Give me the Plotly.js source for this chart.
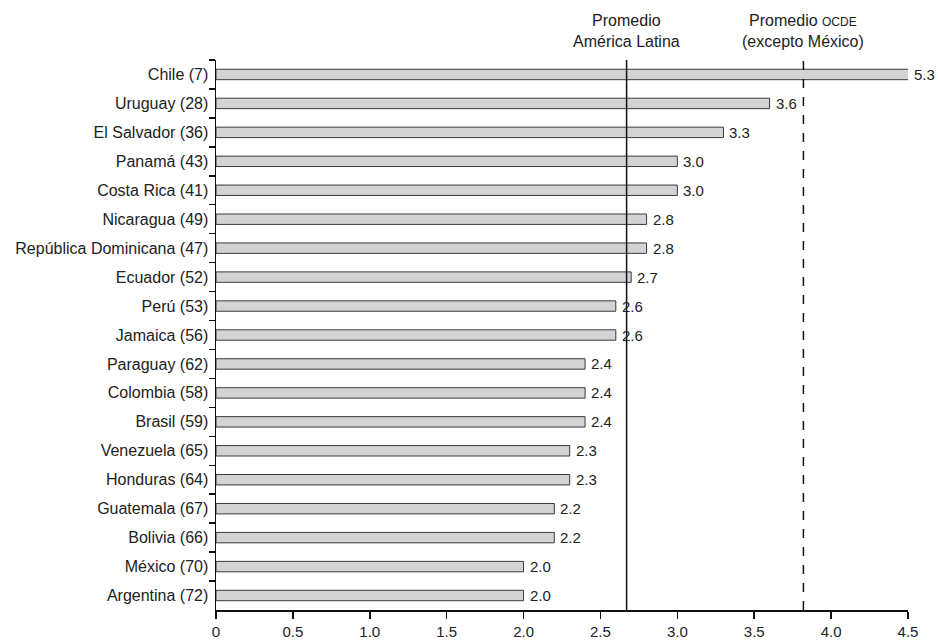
<!DOCTYPE html>
<html>
<head>
<meta charset="utf-8">
<script src="https://cdn.plot.ly/plotly-3.0.1.min.js"></script>
<style>html,body{margin:0;padding:0;background:#fff;}#chart{width:938px;height:642px;}</style>
</head>
<body>
<div id="chart"></div>
<script>
const countries = ["Chile","Uruguay","El Salvador","Panamá","Costa Rica","Nicaragua","República Dominicana","Ecuador","Perú","Jamaica","Paraguay","Colombia","Brasil","Venezuela","Honduras","Guatemala","Bolivia","México","Argentina"];
const ranks = [7,28,36,43,41,49,47,52,53,56,62,58,59,65,64,67,66,70,72];
const values = [5.3,3.6,3.3,3.0,3.0,2.8,2.8,2.7,2.6,2.6,2.4,2.4,2.4,2.3,2.3,2.2,2.2,2.0,2.0];
const latamAvg = 2.67;
const oecdAvg = 3.82;
const xTicks = [0,0.5,1.0,1.5,2.0,2.5,3.0,3.5,4.0,4.5];
const xTickText = ["0","0.5","1.0","1.5","2.0","2.5","3.0","3.5","4.0","4.5"];
const xMax = 4.5;

const FONT = "'Liberation Sans', Arial, sans-serif";
const labels = countries.map((c,i) => c + " (" + ranks[i] + ")");

const trace = {
  type: "bar",
  orientation: "h",
  y: labels,
  x: values,
  width: 0.36,
  marker: {color: "#d3d3d3", line: {color: "#3a3a3a", width: 1}},
  hoverinfo: "x+y"
};

const annotations = values.map((v,i) => ({
  x: Math.min(v, xMax), y: labels[i], xref: "x", yref: "y",
  text: v.toFixed(1), showarrow: false, xanchor: "left", xshift: 4,
  font: {family: FONT, size: 15, color: "#222"}
}));
annotations.push({
  x: latamAvg, xref: "x", y: 1, yref: "paper", yanchor: "bottom", yshift: 8,
  text: "Promedio<br>América Latina", showarrow: false, align: "center",
  font: {family: FONT, size: 16, color: "#222"}
});
annotations.push({
  x: oecdAvg, xref: "x", y: 1, yref: "paper", yanchor: "bottom", yshift: 8,
  text: "Promedio <span style='font-size:12px'>OCDE</span><br>(excepto México)", showarrow: false, align: "center",
  font: {family: FONT, size: 16, color: "#222"}
});

const layout = {
  width: 938, height: 642,
  margin: {l: 216, r: 30, t: 60, b: 32, pad: 0},
  paper_bgcolor: "#fff", plot_bgcolor: "#fff",
  showlegend: false,
  font: {family: FONT, size: 16, color: "#222"},
  xaxis: {
    range: [0, xMax], tickvals: xTicks, ticktext: xTickText,
    showgrid: false, zeroline: false, showline: true, linecolor: "#111", linewidth: 1.5,
    ticks: "outside", ticklen: 7, tickwidth: 1.5, tickcolor: "#111",
    tickfont: {family: FONT, size: 15, color: "#222"}, fixedrange: true
  },
  yaxis: {
    type: "category", autorange: "reversed",
    showgrid: false, zeroline: false, showline: true, linecolor: "#111", linewidth: 1.5,
    ticks: "outside", tickson: "boundaries", ticklen: 6, tickwidth: 1.5, tickcolor: "#111",
    ticklabelstandoff: 3,
    tickfont: {family: FONT, size: 16, color: "#222"}, fixedrange: true
  },
  shapes: [
    {type: "line", xref: "x", yref: "paper", x0: latamAvg, x1: latamAvg, y0: 0, y1: 1,
     line: {color: "#111", width: 1.5}},
    {type: "line", xref: "x", yref: "paper", x0: oecdAvg, x1: oecdAvg, y0: 0, y1: 1,
     line: {color: "#111", width: 1.5, dash: "dash"}}
  ],
  annotations: annotations
};

Plotly.newPlot("chart", [trace], layout, {displayModeBar: false, staticPlot: true});
</script>
</body>
</html>
